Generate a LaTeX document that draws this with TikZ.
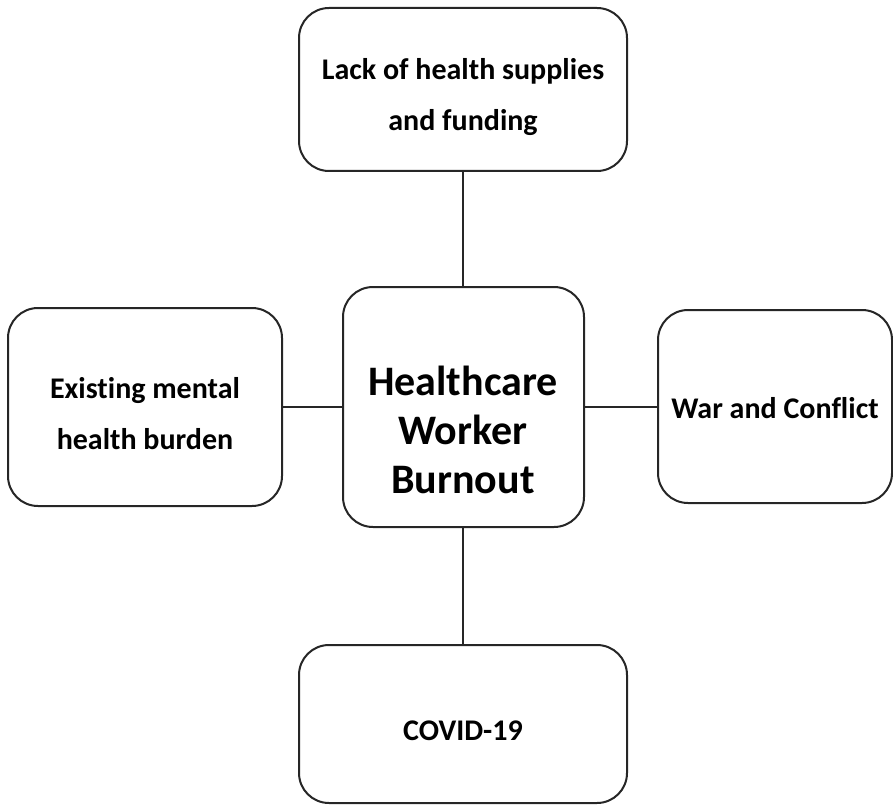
\documentclass[tikz,border=0pt]{standalone}
\usepackage{fontspec}
\setmainfont{Carlito}[Ligatures=NoCommon]
\begin{document}
\begin{tikzpicture}[x=1pt,y=-1pt,
  box/.style={draw=black!85, line width=2pt, rounded corners=30pt, fill=white},
  lbl/.style={align=center, font=\bfseries\fontsize{30}{51}\selectfont, inner sep=0pt},
  biglbl/.style={align=center, font=\bfseries\fontsize{42}{49}\selectfont, inner sep=0pt},
  conn/.style={draw=black!85, line width=2pt}]
\useasboundingbox (0,0) rectangle (893,805);
% boxes
\draw[box] (299,8) rectangle (627,171); \coordinate (topS) at (463,171);
\draw[box] (343,287) rectangle (584,527);
\coordinate (cN) at (463,287); \coordinate (cS) at (463,527);
\coordinate (cW) at (343,407); \coordinate (cE) at (584,407);
\draw[box] (8,308) rectangle (282,506); \coordinate (lE) at (282,407);
\draw[box] (658,310) rectangle (892,503); \coordinate (rW) at (658,407);
\draw[box] (299,645) rectangle (627,803); \coordinate (bN) at (463,645);
% texts
\node[lbl] (ttop) at (463,97) {Lack of health supplies\\and funding};
\node[biglbl] (tc) at (463,430) {Healthcare\\Worker\\Burnout};
\node[lbl] (tl) at (145,414) {Existing mental\\health burden};
\node[lbl] (tr) at (775,408) {War and Conflict};
\node[lbl] (tb) at (463,731) {COVID-19};
% connectors
\draw[conn] (topS) -- (cN);
\draw[conn] (cS) -- (bN);
\draw[conn] (lE) -- (cW);
\draw[conn] (cE) -- (rW);
\end{tikzpicture}
\end{document}
